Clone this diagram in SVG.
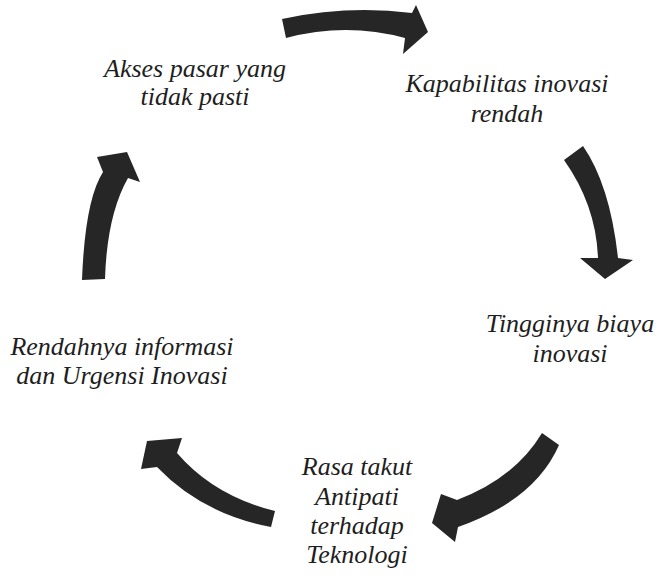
<svg xmlns="http://www.w3.org/2000/svg" width="660" height="577" viewBox="0 0 660 577">
<style>
text{font-family:'Liberation Serif','Times New Roman',serif;font-style:italic;font-size:26px;fill:#1e1e1e;text-anchor:middle}
.arr{fill:#262626;stroke:none}
</style>
<rect width="660" height="577" fill="#ffffff"/>
<g id="connectors">
<path class="arr" d="M 282,19 Q 347,5 412,13 L 416,5 L 428,32 L 403,54 L 405,38 Q 346,22 286,38 Z"/>
<path class="arr" d="M 564,160 L 583,146 Q 610,185 618,258 L 633,260 L 605,279 L 580,258 L 598,258 Q 596,205 564,160 Z"/>
<path class="arr" d="M 542,433 L 559,445 Q 535,500 458,527 L 455,542 L 432,523 L 441,494 L 457,500 Q 515,478 542,433 Z"/>
<path class="arr" d="M 275,511 Q 214,496 177,453 L 182,438 L 147,441 L 141,469 L 157,467 Q 202,514 271,527 Z"/>
<path class="arr" d="M 82,280 Q 85,200 103,172 L 97,157 L 127,152 L 140,182 L 128,178 Q 107,215 105,279 Z"/>
</g>
<g id="node-akses">
<text x="195" y="77">Akses pasar yang</text>
<text x="195" y="105">tidak pasti</text>
</g>
<g id="node-kapabilitas">
<text x="507" y="92">Kapabilitas inovasi</text>
<text x="507" y="122">rendah</text>
</g>
<g id="node-tingginya">
<text x="570" y="332">Tingginya biaya</text>
<text x="570" y="362">inovasi</text>
</g>
<g id="node-rasa">
<text x="357" y="475">Rasa takut</text>
<text x="357" y="505">Antipati</text>
<text x="357" y="534">terhadap</text>
<text x="357" y="563">Teknologi</text>
</g>
<g id="node-rendahnya">
<text x="122" y="355">Rendahnya informasi</text>
<text x="122" y="384">dan Urgensi Inovasi</text>
</g>
</svg>
